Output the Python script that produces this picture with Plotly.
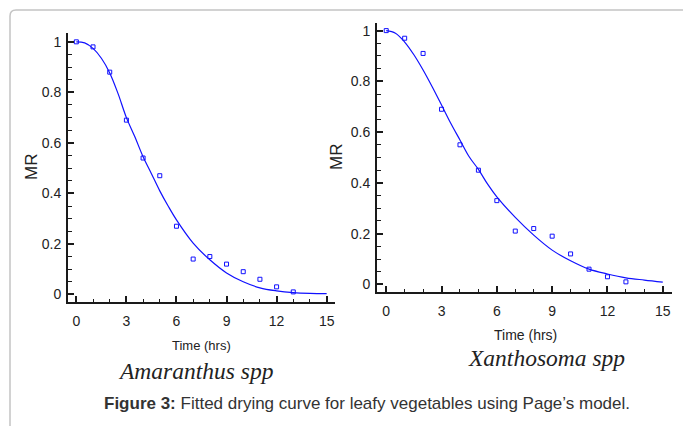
import plotly.graph_objects as go

W, H = 683, 426

# Amaranthus spp
t_obs = [0, 1, 2, 3, 4, 5, 6, 7, 8, 9, 10, 11, 12, 13]
mr_amaranthus = [1.0, 0.98, 0.88, 0.69, 0.54, 0.47, 0.27, 0.14, 0.15, 0.12, 0.09, 0.06, 0.03, 0.01]
t_fit_a = [0, 0.5, 1, 1.5, 2, 2.5, 3, 3.5, 4, 4.5, 5, 5.5, 6, 7, 8, 9, 10, 11, 12, 13, 14, 15]
fit_amaranthus = [1.0, 0.996, 0.974, 0.935, 0.877, 0.795, 0.70, 0.625, 0.545, 0.478, 0.41, 0.35, 0.295,
                  0.203, 0.137, 0.085, 0.05, 0.026, 0.014, 0.007, 0.004, 0.003]

# Xanthosoma spp
mr_xanthosoma = [1.0, 0.97, 0.91, 0.69, 0.55, 0.45, 0.33, 0.21, 0.22, 0.19, 0.12, 0.06, 0.03, 0.01]
t_fit_x = [0, 0.5, 1, 1.5, 2, 2.5, 3, 3.5, 4, 4.5, 5, 5.5, 6, 7, 8, 9, 10, 11, 12, 13, 14, 15]
fit_xanthosoma = [1.0, 0.99, 0.955, 0.905, 0.845, 0.778, 0.707, 0.635, 0.569, 0.503, 0.453, 0.395, 0.345,
                  0.264, 0.194, 0.135, 0.093, 0.06, 0.041, 0.026, 0.017, 0.009]

x_ticks = [0, 3, 6, 9, 12, 15]
y_ticks = [0, 0.2, 0.4, 0.6, 0.8, 1]

blue = "#1010ff"
sans = "Liberation Sans, Arial"
serif = "Liberation Serif, Times New Roman"


def px(x):
    return x / W


def py(y):
    return 1 - y / H


fig = go.Figure()

for t_fit, fit, obs, xa, ya in [(t_fit_a, fit_amaranthus, mr_amaranthus, "x", "y"),
                                (t_fit_x, fit_xanthosoma, mr_xanthosoma, "x2", "y2")]:
    fig.add_trace(go.Scatter(x=t_fit, y=fit, mode="lines", line=dict(color=blue, width=1.2, shape="spline"),
                             xaxis=xa, yaxis=ya, showlegend=False))
    fig.add_trace(go.Scatter(x=t_obs, y=obs, mode="markers",
                             marker=dict(symbol="square-open", size=4, color=blue, line=dict(width=1)),
                             xaxis=xa, yaxis=ya, showlegend=False))

xaxis_common = dict(range=[-0.5, 15.5], tickvals=x_ticks, showline=True, linecolor="#1a1a1a", linewidth=2,
                    ticks="inside", ticklen=6, tickwidth=1.5, tickcolor="#1a1a1a",
                    minor=dict(dtick=1, ticks="inside", ticklen=3, tickwidth=1.2, tickcolor="#1a1a1a"),
                    showgrid=False, zeroline=False, tickfont=dict(family=sans, size=14, color="#222"),
                    ticklabelstandoff=5, automargin=False)
yaxis_common = dict(tickvals=y_ticks, showline=True, linecolor="#1a1a1a", linewidth=2,
                    ticks="inside", ticklen=6, tickwidth=1.5, tickcolor="#1a1a1a",
                    minor=dict(dtick=0.05, ticks="inside", ticklen=4, tickwidth=1.2, tickcolor="#1a1a1a"),
                    showgrid=False, zeroline=False, tickfont=dict(family=sans, size=14, color="#222"),
                    ticklabelstandoff=2, automargin=False)

fig.update_layout(
    width=W, height=H,
    margin=dict(l=0, r=0, t=0, b=0),
    paper_bgcolor="white", plot_bgcolor="white",
    xaxis=dict(xaxis_common, domain=[px(68), px(335)], anchor="y"),
    yaxis=dict(yaxis_common, domain=[py(302), py(33)], range=[-0.03, 1.035], anchor="x"),
    xaxis2=dict(xaxis_common, domain=[px(377), px(672)], anchor="y2"),
    yaxis2=dict(yaxis_common, domain=[py(292), py(23)], range=[-0.03, 1.03], anchor="x2"),
)

# frame around the figure
fig.add_shape(type="path", xref="paper", yref="paper",
              path=f"M {px(10)},{py(426)} L {px(10)},{py(16)} Q {px(10)},{py(10)} {px(16)},{py(10)} L {px(683)},{py(10)}",
              line=dict(color="#c4c4c4", width=1.5))

texts = [
    ("MR", 31, 167, dict(family=sans, size=17, color="#222"), -90),
    ("MR", 336, 157, dict(family=sans, size=17, color="#222"), -90),
    ("Time (hrs)", 201, 345, dict(family=sans, size=13, color="#222"), 0),
    ("Time (hrs)", 525, 335, dict(family=sans, size=14, color="#222"), 0),
    ("<i>Amaranthus spp</i>", 196, 371, dict(family=serif, size=23.5, color="#222"), 0),
    ("<i>Xanthosoma spp</i>", 546, 358, dict(family=serif, size=23.5, color="#222"), 0),
    ("<b>Figure 3:</b> Fitted drying curve for leafy vegetables using Page\u2019s model.", 367, 403,
     dict(family=sans, size=17, color="#333"), 0),
]
for txt, x, y, font, ang in texts:
    fig.add_annotation(text=txt, x=px(x), y=py(y), xref="paper", yref="paper", showarrow=False,
                       xanchor="center", yanchor="middle", font=font, textangle=ang)

# drop the default page margin so the figure sits at the window origin
fig.write_html("out.html", config={"displayModeBar": False},
               post_script="document.body.style.margin = '0';")
